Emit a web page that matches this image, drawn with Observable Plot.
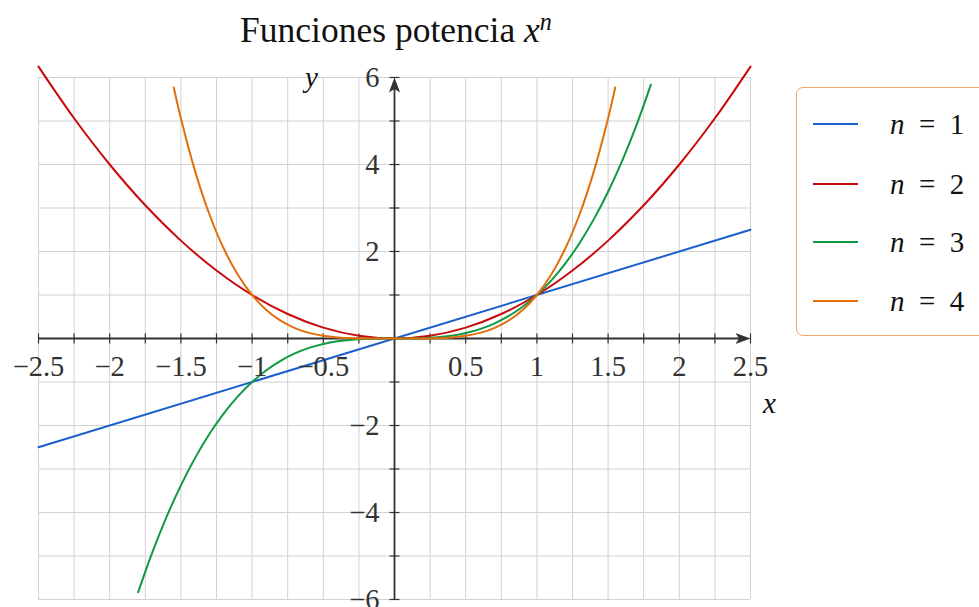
<!DOCTYPE html>
<html>
<head>
<meta charset="utf-8">
<script src="https://cdn.jsdelivr.net/npm/d3@7"></script>
<script src="https://cdn.jsdelivr.net/npm/@observablehq/plot@0.6"></script>
<style>
  html, body { margin: 0; padding: 0; background: #fff; }
  #page { position: relative; width: 979px; height: 607px; overflow: hidden; font-family: "Liberation Serif", serif; }
  #chart { position: absolute; left: 0; top: 0; }
  #title { position: absolute; left: 0; width: 792px; top: 13px; text-align: center; font-size: 35.5px; line-height: 35px; color: #111; }
  #title i { font-style: italic; }
  #title sup { font-size: 0.68em; font-style: italic; vertical-align: 0.5em; line-height: 0; }
  #legend { position: absolute; left: 796px; top: 87px; width: 220px; height: 249px; border: 1.3px solid #f5a56c; border-radius: 7px; box-sizing: border-box; background: #fff; }
  .entry { position: absolute; left: 0; height: 0; }
  .swatch { position: absolute; left: 16px; width: 45px; height: 0; border-top: 2.2px solid; top: -1px; }
  .label { position: absolute; left: 93px; top: -17px; font-size: 29px; line-height: 34px; white-space: nowrap; color: #111; }
  .label i { font-style: italic; }
  .label .eq { margin: 0 0.5em; }
</style>
</head>
<body>
<div id="page">
  <div id="chart"></div>
  <div id="title">Funciones potencia <i>x</i><sup>n</sup></div>
  <div id="legend"></div>
</div>
<script>
// Power functions y = x^n sampled at a few points per curve.
const exponents = [1, 2, 3, 4];
const colors = ["#1a5fcc", "#c80a0a", "#0f9a42", "#e26f0c"];

const xs1 = [-2.5, 2.5];
const ys1 = [-2.5, 2.5];

const xs2 = [-2.5, -2.25, -2, -1.75, -1.5, -1.25, -1, -0.75, -0.5, -0.25, 0,
             0.25, 0.5, 0.75, 1, 1.25, 1.5, 1.75, 2, 2.25, 2.5];
const ys2 = [6.25, 5.0625, 4, 3.0625, 2.25, 1.5625, 1, 0.5625, 0.25, 0.0625, 0,
             0.0625, 0.25, 0.5625, 1, 1.5625, 2.25, 3.0625, 4, 5.0625, 6.25];

const xs3 = [-1.8, -1.7, -1.6, -1.5, -1.4, -1.3, -1.2, -1.1, -1, -0.9, -0.8, -0.7, -0.6, -0.5, -0.4, -0.3, -0.2, -0.1, 0,
             0.1, 0.2, 0.3, 0.4, 0.5, 0.6, 0.7, 0.8, 0.9, 1, 1.1, 1.2, 1.3, 1.4, 1.5, 1.6, 1.7, 1.8];
const ys3 = [-5.832, -4.913, -4.096, -3.375, -2.744, -2.197, -1.728, -1.331, -1, -0.729, -0.512, -0.343, -0.216, -0.125, -0.064, -0.027, -0.008, -0.001, 0,
             0.001, 0.008, 0.027, 0.064, 0.125, 0.216, 0.343, 0.512, 0.729, 1, 1.331, 1.728, 2.197, 2.744, 3.375, 4.096, 4.913, 5.832];

const xs4 = [-1.55, -1.5, -1.4, -1.3, -1.2, -1.1, -1, -0.9, -0.8, -0.7, -0.6, -0.5, -0.4, -0.3, -0.2, -0.1, 0,
             0.1, 0.2, 0.3, 0.4, 0.5, 0.6, 0.7, 0.8, 0.9, 1, 1.1, 1.2, 1.3, 1.4, 1.5, 1.55];
const ys4 = [5.772, 5.0625, 3.8416, 2.8561, 2.0736, 1.4641, 1, 0.6561, 0.4096, 0.2401, 0.1296, 0.0625, 0.0256, 0.0081, 0.0016, 0.0001, 0,
             0.0001, 0.0016, 0.0081, 0.0256, 0.0625, 0.1296, 0.2401, 0.4096, 0.6561, 1, 1.4641, 2.0736, 2.8561, 3.8416, 5.0625, 5.772];

// Grid, ticks and tick labels
const xGrid = [-2.5, -2.25, -2, -1.75, -1.5, -1.25, -1, -0.75, -0.5, -0.25, 0,
               0.25, 0.5, 0.75, 1, 1.25, 1.5, 1.75, 2, 2.25, 2.5];
const yGrid = [-6, -5, -4, -3, -2, -1, 0, 1, 2, 3, 4, 5, 6];
const xTickValues = [-2.5, -2, -1.5, -1, -0.5, 0.5, 1, 1.5, 2, 2.5];
const xTickLabels = ["−2.5", "−2", "−1.5", "−1", "−0.5", "0.5", "1", "1.5", "2", "2.5"];
const yTickValues = [-6, -4, -2, 2, 4, 6];
const yTickLabels = ["−6", "−4", "−2", "2", "4", "6"];

const seriesX = [xs1, xs2, xs3, xs4];
const seriesY = [ys1, ys2, ys3, ys4];
const rows = exponents.flatMap((n, i) => seriesX[i].map((x, j) => ({n, x, y: seriesY[i][j]})));

const axisColor = "#333";
const gridColor = "#d2d2d2";

// Stealth-style arrowheads with the tip at the origin
const arrowRight = {draw(ctx) { ctx.moveTo(0, 0); ctx.lineTo(-15, -5.6); ctx.lineTo(-11.5, 0); ctx.lineTo(-15, 5.6); ctx.closePath(); }};
const arrowUp = {draw(ctx) { ctx.moveTo(0, 0); ctx.lineTo(-5.6, 15); ctx.lineTo(0, 11.5); ctx.lineTo(5.6, 15); ctx.closePath(); }};
const tickV = {draw(ctx) { ctx.moveTo(0, -5); ctx.lineTo(0, 5); }};
const tickH = {draw(ctx) { ctx.moveTo(-5, 0); ctx.lineTo(5, 0); }};

const chart = Plot.plot({
  width: 979,
  height: 607,
  marginLeft: 38,
  marginRight: 229,
  marginTop: 77,
  marginBottom: 8,
  x: {domain: [-2.5, 2.5], axis: null},
  y: {domain: [-6, 6], axis: null},
  color: {domain: exponents, range: colors},
  style: {fontFamily: "'Liberation Serif', serif", fontSize: "28px", background: "transparent", overflow: "visible"},
  marks: [
    Plot.ruleX(xGrid, {x: d => d, y1: -6, y2: 6, stroke: gridColor, strokeWidth: 1}),
    Plot.ruleY(yGrid, {y: d => d, x1: -2.5, x2: 2.5, stroke: gridColor, strokeWidth: 1}),
    Plot.ruleY([0], {x1: -2.5, x2: 2.45, stroke: axisColor, strokeWidth: 1.8}),
    Plot.ruleX([0], {y1: -6, y2: 5.85, stroke: axisColor, strokeWidth: 1.8}),
    Plot.dot(xGrid, {x: d => d, y: 0, symbol: tickV, stroke: axisColor, fill: "none", strokeWidth: 1.2}),
    Plot.dot(yGrid, {x: 0, y: d => d, symbol: tickH, stroke: axisColor, fill: "none", strokeWidth: 1.2}),
    Plot.dot([2.5], {x: d => d, y: 0, symbol: arrowRight, fill: axisColor, stroke: "none"}),
    Plot.dot([6], {x: 0, y: d => d, symbol: arrowUp, fill: axisColor, stroke: "none"}),
    Plot.line(rows, {x: "x", y: "y", z: "n", stroke: "n", strokeWidth: 2, curve: "catmull-rom"}),
    Plot.text(xTickValues, {x: d => d, y: 0, text: (d, i) => xTickLabels[i], dy: 28, fill: axisColor, fontSize: 28.5}),
    Plot.text(yTickValues, {x: 0, y: d => d, text: (d, i) => yTickLabels[i], dx: -15, dy: 0, textAnchor: "end", fill: axisColor, fontSize: 28.5}),
    Plot.text(["x"], {x: 2.5, y: 0, text: d => d, dx: 19, dy: 65, fontStyle: "italic", fill: "#111", fontSize: 29}),
    Plot.text(["y"], {x: 0, y: 6, text: d => d, dx: -83, dy: 0, fontStyle: "italic", fill: "#111", fontSize: 29})
  ]
});
document.getElementById("chart").appendChild(chart);

// Legend
const legend = document.getElementById("legend");
const entryTops = [36, 96, 154, 213];
exponents.forEach((n, i) => {
  const e = document.createElement("div");
  e.className = "entry";
  e.style.top = entryTops[i] + "px";
  e.innerHTML = `<div class="swatch" style="border-color:${colors[i]}"></div>` +
    `<div class="label"><i>n</i><span class="eq">=</span>${n}</div>`;
  legend.appendChild(e);
});
</script>
</body>
</html>
